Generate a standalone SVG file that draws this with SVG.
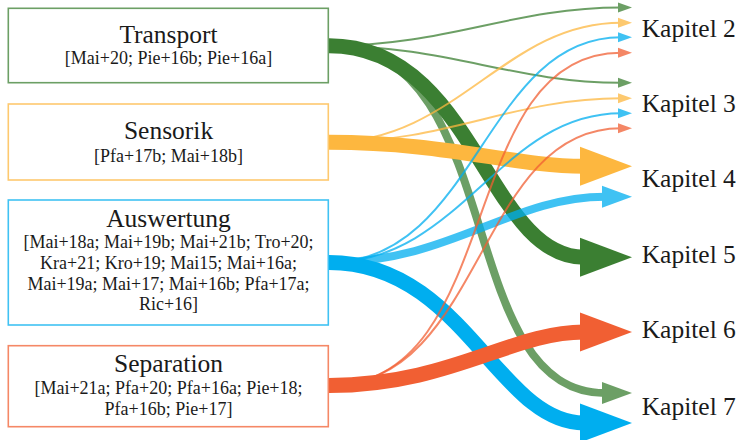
<svg xmlns="http://www.w3.org/2000/svg" width="744" height="440" viewBox="0 0 744 440">
<style>
.box{fill:#fff;stroke-width:1.6}
.t{font-family:'Liberation Serif','Times New Roman',Tinos,'DejaVu Serif',serif;fill:#1a1a1a;text-anchor:middle}
.ti{font-size:25.5px}
.su{font-size:18px}
.k{font-family:'Liberation Serif','Times New Roman',Tinos,'DejaVu Serif',serif;fill:#1a1a1a;font-size:25.5px}
.sh{fill:none;stroke-linecap:butt}
.thick{stroke-width:15}
.med{stroke-width:8}
.thin{stroke-width:2}
.lt{opacity:0.75}
.g{stroke:#3b7f32}.gf{fill:#3b7f32}
.y{stroke:#fdb73f}.yf{fill:#fdb73f}
.b{stroke:#00aeef}.bf{fill:#00aeef}
.r{stroke:#f15f33}.rf{fill:#f15f33}
</style>
<g id="connectors">
  <g id="c-t-k2" class="lt"><path class="sh thin g" d="M329,45.8 C448.6,45.8 512.4,7.5 621,7.5"/><polygon class="gf" points="618,2.5 632,7.5 618,12.5"/></g>
  <g id="c-t-k3" class="lt"><path class="sh thin g" d="M329,45.8 C448.5,45.8 512.5,82.7 621,82.7"/><polygon class="gf" points="618,77.7 632,82.7 618,87.7"/></g>
  <g id="c-t-k7" class="lt"><path class="sh med g" d="M329,45.8 C509.4,45.8 451.6,393 605,393"/><polygon class="gf" points="602,382 632,393 602,404"/></g>
  <g id="c-t-k5"><path class="sh thick g" d="M329,45.8 C473.7,45.8 487.3,257.3 584,257.3"/><polygon class="gf" points="580,237.8 632,257.3 580,276.8"/></g>

  <g id="c-s-k2" class="lt"><path class="sh thin y" d="M329,142.3 C456.5,142.3 504.5,22.7 621,22.7"/><polygon class="yf" points="618,17.7 632,22.7 618,27.7"/></g>
  <g id="c-s-k3" class="lt"><path class="sh thin y" d="M329,142.3 C448.9,142.3 512.1,98.3 621,98.3"/><polygon class="yf" points="618,93.3 632,98.3 618,103.3"/></g>
  <g id="c-s-k4"><path class="sh thick y" d="M329,142.3 C448,142.3 513,166.3 584,166.3"/><polygon class="yf" points="580,146.8 632,166.3 580,185.8"/></g>

  <g id="c-a-k2" class="lt"><path class="sh thin b" d="M329,262.5 C476.8,262.5 484.2,37.3 621,37.3"/><polygon class="bf" points="618,32.3 632,37.3 618,42.3"/></g>
  <g id="c-a-k3" class="lt"><path class="sh thin b" d="M329,262.5 C461.2,262.5 499.8,113.3 621,113.3"/><polygon class="bf" points="618,108.3 632,113.3 618,118.3"/></g>
  <g id="c-a-k4" class="lt"><path class="sh med b" d="M329,262.5 C450.4,262.5 510.6,196.7 605,196.7"/><polygon class="bf" points="602,185.7 632,196.7 602,207.7"/></g>
  <g id="c-a-k7"><path class="sh thick b" d="M329,262.5 C463.2,262.5 497.8,423 584,423"/><polygon class="bf" points="580,403.5 632,423 580,442.5"/></g>

  <g id="c-p-k2" class="lt"><path class="sh thin r" d="M329,385.5 C506.6,385.5 454.4,52.7 621,52.7"/><polygon class="rf" points="618,47.7 632,52.7 618,57.7"/></g>
  <g id="c-p-k3" class="lt"><path class="sh thin r" d="M329,385.5 C484.6,385.5 476.4,128.3 621,128.3"/><polygon class="rf" points="618,123.3 632,128.3 618,133.3"/></g>
  <g id="c-p-k6"><path class="sh thick r" d="M329,385.5 C449.5,385.5 511.5,332 584,332"/><polygon class="rf" points="580,312.5 632,332 580,351.5"/></g>
</g>
<g id="transport">
  <rect class="box" x="8.3" y="8.3" width="320" height="74.4" stroke="#6c9f65"/>
  <text class="t ti" x="168.5" y="43.3">Transport</text>
  <text class="t su" x="168.5" y="64">[Mai+20; Pie+16b; Pie+16a]</text>
</g>
<g id="sensorik">
  <rect class="box" x="8.3" y="104" width="320" height="76" stroke="#fec96f"/>
  <text class="t ti" x="168.5" y="139.3">Sensorik</text>
  <text class="t su" x="168.5" y="161.5">[Pfa+17b; Mai+18b]</text>
</g>
<g id="auswertung">
  <rect class="box" x="8.3" y="200" width="320" height="125" stroke="#40c2f3"/>
  <text class="t ti" x="168.5" y="226.7">Auswertung</text>
  <text class="t su" x="168.5" y="248.3">[Mai+18a; Mai+19b; Mai+21b; Tro+20;</text>
  <text class="t su" x="168.5" y="269">Kra+21; Kro+19; Mai15; Mai+16a;</text>
  <text class="t su" x="168.5" y="289.5">Mai+19a; Mai+17; Mai+16b; Pfa+17a;</text>
  <text class="t su" x="168.5" y="310">Ric+16]</text>
</g>
<g id="separation">
  <rect class="box" x="8.3" y="345.7" width="320" height="81" stroke="#f58866"/>
  <text class="t ti" x="168.5" y="372.3">Separation</text>
  <text class="t su" x="168.5" y="394.3">[Mai+21a; Pfa+20; Pfa+16a; Pie+18;</text>
  <text class="t su" x="168.5" y="415">Pfa+16b; Pie+17]</text>
</g>
<g id="kapitel">
  <text class="k" x="641.7" y="36.7">Kapitel 2</text>
  <text class="k" x="641.7" y="111.7">Kapitel 3</text>
  <text class="k" x="641.7" y="186.7">Kapitel 4</text>
  <text class="k" x="641.7" y="263.3">Kapitel 5</text>
  <text class="k" x="641.7" y="338.3">Kapitel 6</text>
  <text class="k" x="641.7" y="415">Kapitel 7</text>
</g>
</svg>
